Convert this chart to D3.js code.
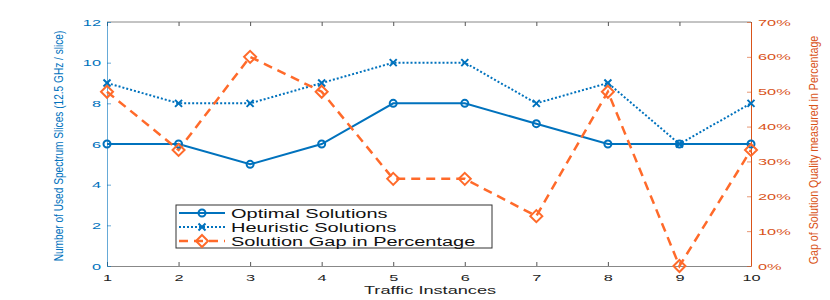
<!DOCTYPE html>
<html><head><meta charset="utf-8">
<script src="https://cdn.jsdelivr.net/npm/d3@7"></script>
<style>body{margin:0;background:#fff}svg{display:block;font-family:"Liberation Sans",Arial,sans-serif}</style>
</head><body><svg id="c" width="830" height="300"></svg>
<script>
const instances = [1,2,3,4,5,6,7,8,9,10];
const optimal = [6,6,5,6,8,8,7,6,6,6];
const heuristic = [9,8,8,9,10,10,8,9,6,8];
const gapPct = [50,33.3,60,50,25,25,14.3,50,0,33.3];
const leftTicks = [0,2,4,6,8,10,12];
const rightTicks = [0,10,20,30,40,50,60,70];
const seriesNames = ["Optimal Solutions","Heuristic Solutions","Solution Gap in Percentage"];

const blue = "#0072BD", orange = "#FF6A2A", orangeAxis = "#D95319";
const SX = 1.72, TFS = 9.5;
const svg = d3.select("#c");
const L=107,R=751,T=22,B=266;
const x = d3.scaleLinear().domain([1,10]).range([L,R]);
const yL = d3.scaleLinear().domain([0,12]).range([B,T]);
const yR = d3.scaleLinear().domain([0,70]).range([B,T]);

function stretch(sel, sx){
  sel.each(function(){
    const t=d3.select(this);
    const tx=+t.attr("x")||0, ty=+t.attr("y")||0;
    t.attr("x",0).attr("y",0).attr("transform",`translate(${tx},${ty}) scale(${sx},1)`);
  });
}

svg.append("line").attr("x1",L).attr("x2",R).attr("y1",T).attr("y2",T).attr("stroke","#888").attr("stroke-width",1);
const xa = svg.append("g").attr("transform",`translate(0,${B})`)
  .call(d3.axisBottom(x).tickValues(instances).tickFormat(d3.format("d")).tickSizeInner(-4).tickSizeOuter(0).tickPadding(8));
xa.select(".domain").attr("stroke","#888");
xa.selectAll(".tick line").attr("stroke","#555");
xa.selectAll("text").attr("font-size",TFS).attr("fill","#222");
stretch(xa.selectAll("text"),SX);
const xt = svg.append("g").attr("transform",`translate(0,${T})`)
  .call(d3.axisTop(x).tickValues(instances).tickFormat("").tickSizeInner(-4).tickSizeOuter(0));
xt.select(".domain").remove(); xt.selectAll(".tick line").attr("stroke","#555");

const ya = svg.append("g").attr("transform",`translate(${L},0)`)
  .call(d3.axisLeft(yL).tickValues(leftTicks).tickSizeInner(-4).tickSizeOuter(0).tickPadding(6));
ya.select(".domain").attr("stroke",blue).attr("stroke-opacity",0.6);
ya.selectAll(".tick line").attr("stroke",blue).attr("stroke-opacity",0.6);
ya.selectAll("text").attr("font-size",TFS).attr("fill",blue);
stretch(ya.selectAll("text"),SX);

const yb = svg.append("g").attr("transform",`translate(${R},0)`)
  .call(d3.axisRight(yR).tickValues(rightTicks).tickFormat(d=>d+"%").tickSizeInner(-4).tickSizeOuter(0).tickPadding(7));
yb.select(".domain").attr("stroke",orangeAxis);
yb.selectAll(".tick line").attr("stroke",orangeAxis).attr("stroke-opacity",0.6);
yb.selectAll("text").attr("font-size",TFS).attr("fill",orangeAxis);
stretch(yb.selectAll("text"),SX);

svg.append("text").attr("transform","translate(430,294) scale(1.58,1)").attr("text-anchor","middle").attr("font-size",11.5).attr("fill","#222").text("Traffic Instances");
svg.append("text").attr("transform","translate(63,146) rotate(-90) scale(0.78,1)").attr("text-anchor","middle").attr("font-size",13)
  .attr("fill",blue).text("Number of Used Spectrum Slices (12.5 GHz / slice)");
svg.append("text").attr("transform","translate(818,150) rotate(-90) scale(0.82,1)").attr("text-anchor","middle").attr("font-size",13)
  .attr("fill",orangeAxis).text("Gap of Solution Quality measured in Percentage");

const line = (ys,arr)=>d3.line().x((d,i)=>x(instances[i])).y(d=>ys(d))(arr);
const plot = svg.append("g");
plot.append("path").attr("d",line(yL,optimal)).attr("fill","none").attr("stroke",blue).attr("stroke-width",2);
plot.append("path").attr("d",line(yL,heuristic)).attr("fill","none").attr("stroke",blue).attr("stroke-width",2).attr("stroke-dasharray","2,2");
plot.append("path").attr("d",line(yR,gapPct)).attr("fill","none").attr("stroke",orange).attr("stroke-width",2.5).attr("stroke-dasharray","9,6");

function circ(g,cx,cy){g.append("circle").attr("cx",cx).attr("cy",cy).attr("r",3.5).attr("fill","none").attr("stroke",blue).attr("stroke-width",2);}
function cross(g,cx,cy){const s=3.5;g.append("path").attr("d",`M${cx-s},${cy-s}L${cx+s},${cy+s}M${cx-s},${cy+s}L${cx+s},${cy-s}`).attr("stroke",blue).attr("stroke-width",2);}
function diam(g,cx,cy){const s=6;g.append("path").attr("d",`M${cx},${cy-s}L${cx+s},${cy}L${cx},${cy+s}L${cx-s},${cy}Z`).attr("fill","none").attr("stroke",orange).attr("stroke-width",2);}
optimal.forEach((d,i)=>circ(plot,x(instances[i]),yL(d)));
heuristic.forEach((d,i)=>cross(plot,x(instances[i]),yL(d)));
gapPct.forEach((d,i)=>diam(plot,x(instances[i]),yR(d)));

const lg = svg.append("g");
lg.append("rect").attr("x",176).attr("y",205).attr("width",316).attr("height",43).attr("fill","#fff").attr("stroke","#333").attr("stroke-width",1);
const rows=[213,227,241];
lg.append("line").attr("x1",179).attr("x2",225).attr("y1",rows[0]).attr("y2",rows[0]).attr("stroke",blue).attr("stroke-width",2);
circ(lg,202,rows[0]);
lg.append("line").attr("x1",179).attr("x2",225).attr("y1",rows[1]).attr("y2",rows[1]).attr("stroke",blue).attr("stroke-width",2).attr("stroke-dasharray","2,2");
cross(lg,202,rows[1]);
lg.append("line").attr("x1",179).attr("x2",225).attr("y1",rows[2]).attr("y2",rows[2]).attr("stroke",orange).attr("stroke-width",2.5).attr("stroke-dasharray","9,6");
diam(lg,202,rows[2]);
seriesNames.forEach((n,i)=>lg.append("text").attr("transform",`translate(231,${rows[i]+4.5}) scale(1.6,1)`).attr("font-size",12.5).attr("fill","#111").text(n));
</script></body></html>
